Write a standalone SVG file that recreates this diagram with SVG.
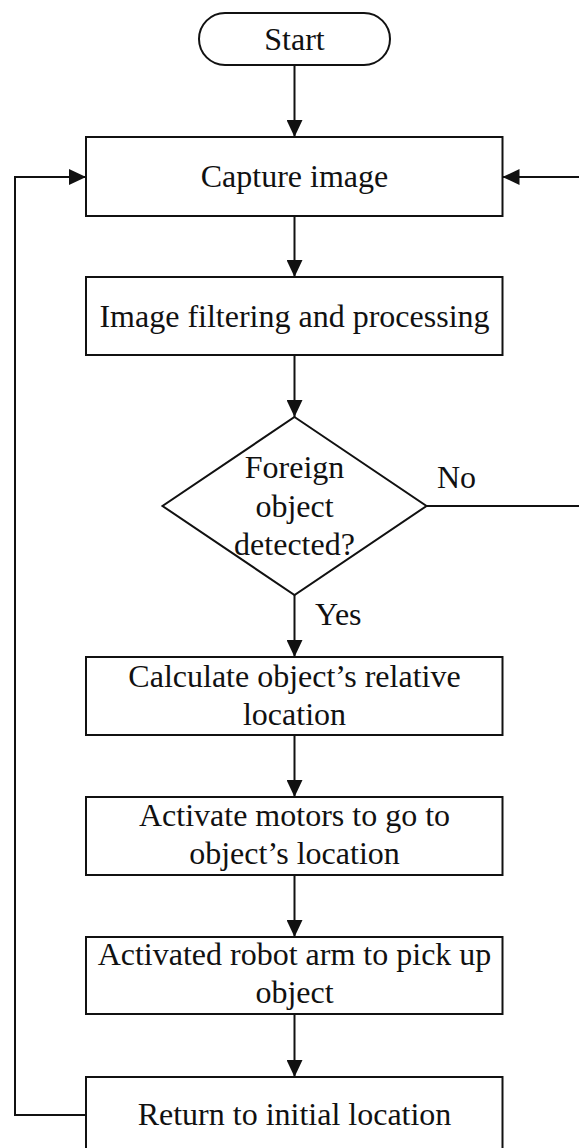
<svg xmlns="http://www.w3.org/2000/svg" width="579" height="1148" viewBox="0 0 579 1148">
  <style>
    .box { fill: #ffffff; stroke: #111111; stroke-width: 2; }
    .t { font-family: "Liberation Serif", "Times New Roman", serif; font-size: 32px; fill: #111111; text-anchor: middle; }
    .tl { font-family: "Liberation Serif", "Times New Roman", serif; font-size: 32px; fill: #111111; text-anchor: start; }
    .conn { fill: none; stroke: #111111; stroke-width: 2; }
  </style>
  <defs>
    <marker id="arrow" markerUnits="userSpaceOnUse" markerWidth="17" markerHeight="16" refX="17" refY="8" orient="auto">
      <path d="M0,0 L17,8 L0,16 Z" fill="#111111"/>
    </marker>
  </defs>
  <rect x="0" y="0" width="579" height="1148" fill="#ffffff"/>

  <g id="connectors">
    <line class="conn" x1="294.5" y1="65" x2="294.5" y2="137" marker-end="url(#arrow)"/>
    <line class="conn" x1="294.5" y1="216" x2="294.5" y2="277" marker-end="url(#arrow)"/>
    <line class="conn" x1="294.5" y1="355" x2="294.5" y2="417" marker-end="url(#arrow)"/>
    <line class="conn" x1="294.5" y1="595" x2="294.5" y2="657" marker-end="url(#arrow)"/>
    <line class="conn" x1="294.5" y1="735" x2="294.5" y2="797" marker-end="url(#arrow)"/>
    <line class="conn" x1="294.5" y1="875" x2="294.5" y2="937" marker-end="url(#arrow)"/>
    <line class="conn" x1="294.5" y1="1014" x2="294.5" y2="1077" marker-end="url(#arrow)"/>
    <path class="conn" d="M86,1115 H15 V177 H86" marker-end="url(#arrow)"/>
    <path class="conn" d="M426.5,506 H583 V177 H502.5" marker-end="url(#arrow)"/>
    <text class="tl" x="315" y="625">Yes</text>
    <text class="tl" x="437" y="488">No</text>
  </g>

  <g id="start">
    <rect class="box" x="199" y="13" width="191" height="52" rx="26" ry="26"/>
    <text class="t" x="294.5" y="50">Start</text>
  </g>

  <g id="capture">
    <rect class="box" x="86" y="137" width="416.5" height="79"/>
    <text class="t" x="294.5" y="187">Capture image</text>
  </g>

  <g id="filter">
    <rect class="box" x="86" y="277" width="416.5" height="78"/>
    <text class="t" x="294.5" y="327">Image filtering and processing</text>
  </g>

  <g id="decision">
    <polygon class="box" points="294.5,417 426.5,506 294.5,595 162.5,506"/>
    <text class="t" x="294.5" y="478">Foreign</text>
    <text class="t" x="294.5" y="517">object</text>
    <text class="t" x="294.5" y="555">detected?</text>
  </g>

  <g id="calculate">
    <rect class="box" x="86" y="657" width="416.5" height="78"/>
    <text class="t" x="294.5" y="687">Calculate object’s relative</text>
    <text class="t" x="294.5" y="725">location</text>
  </g>

  <g id="motors">
    <rect class="box" x="86" y="797" width="416.5" height="78"/>
    <text class="t" x="294.5" y="826">Activate motors to go to</text>
    <text class="t" x="294.5" y="864">object’s location</text>
  </g>

  <g id="arm">
    <rect class="box" x="86" y="937" width="416.5" height="77"/>
    <text class="t" x="294.5" y="965">Activated robot arm to pick up</text>
    <text class="t" x="294.5" y="1003">object</text>
  </g>

  <g id="return">
    <rect class="box" x="86" y="1077" width="416.5" height="78"/>
    <text class="t" x="294.5" y="1125">Return to initial location</text>
  </g>
</svg>
